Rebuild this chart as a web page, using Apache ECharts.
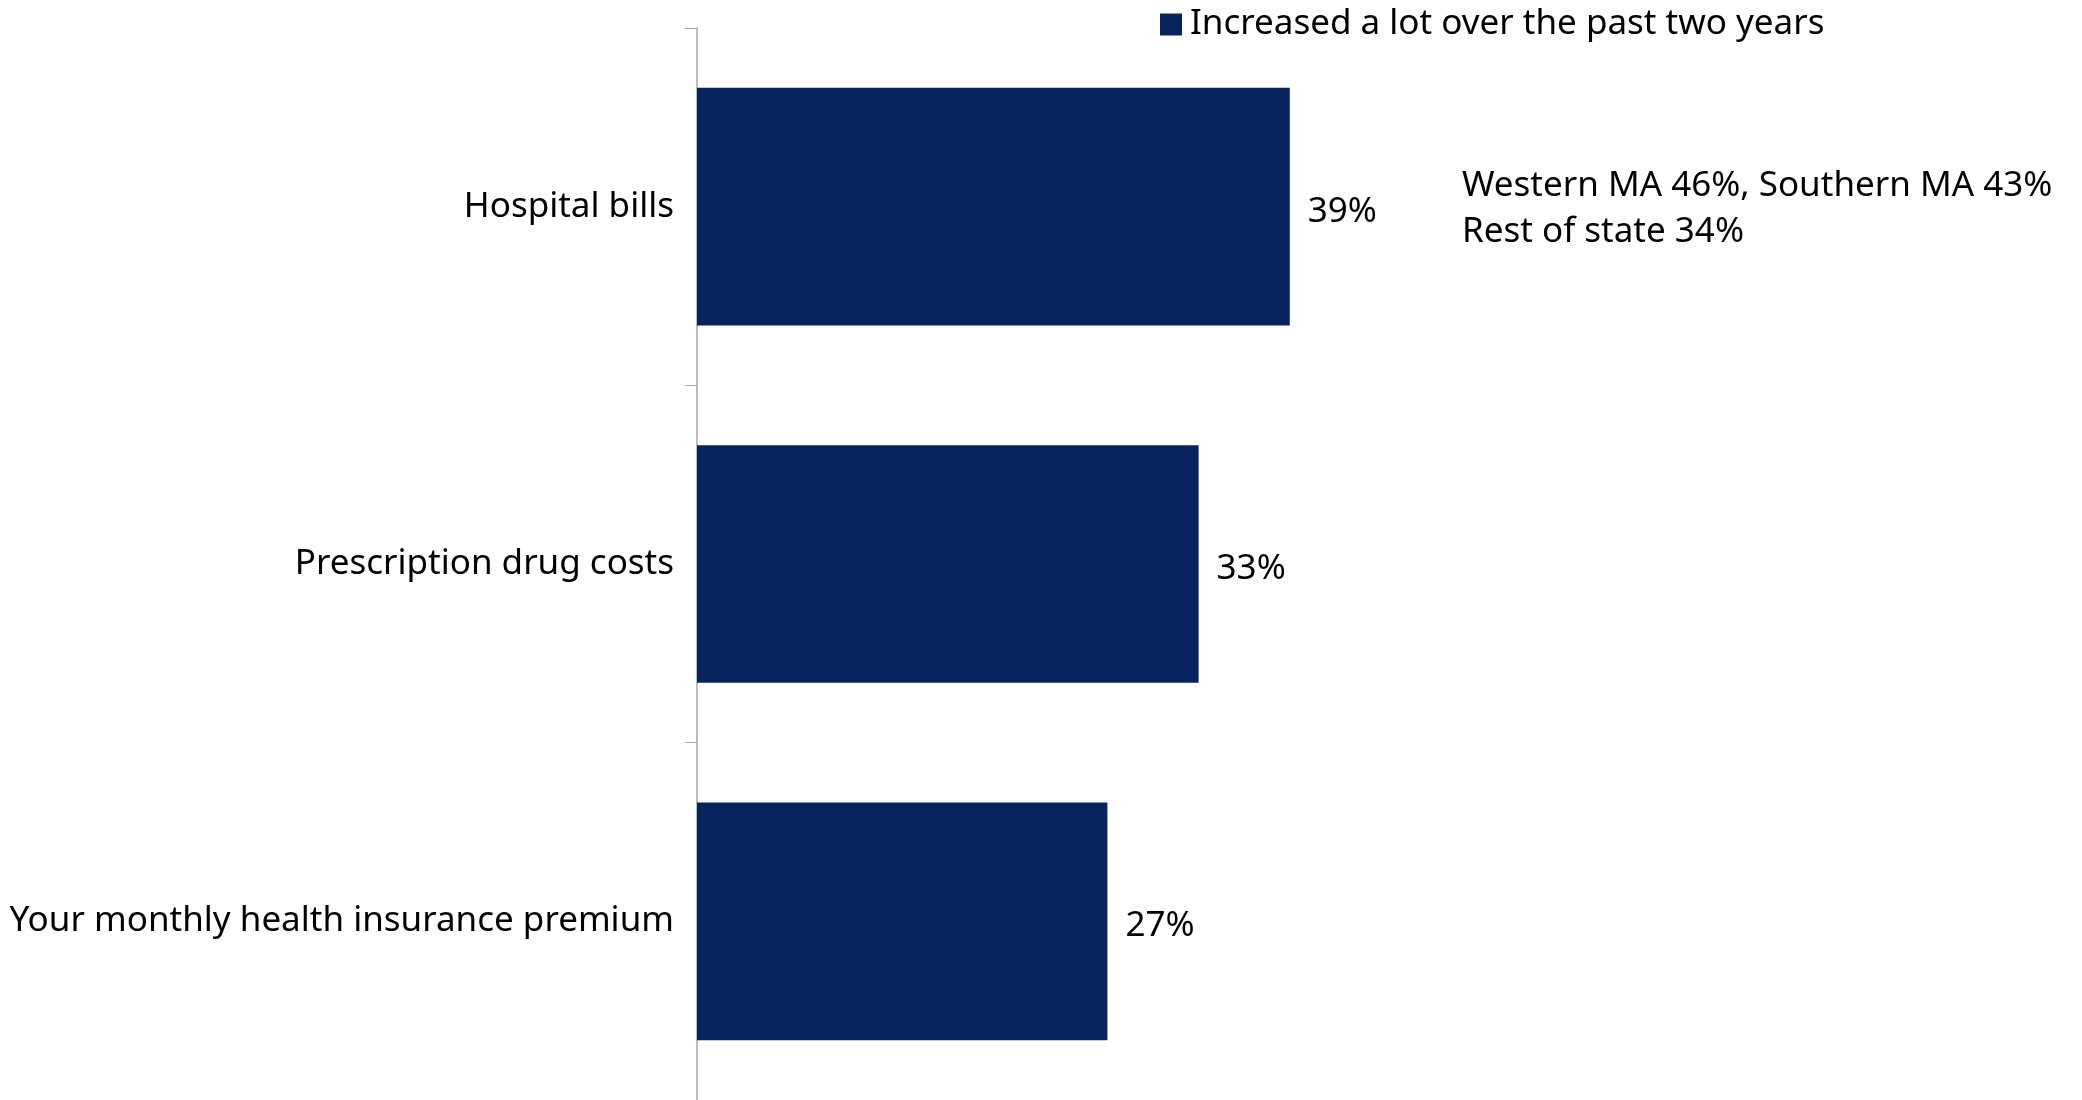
<!DOCTYPE html>
<html><head><meta charset="utf-8">
<script src="https://cdn.jsdelivr.net/npm/echarts@6/dist/echarts.min.js"></script>
<style>html,body{margin:0;padding:0;background:#fff}#c{width:2082px;height:1100px}</style>
</head><body><div id="c"></div>
<script>
const categories = ["Hospital bills", "Prescription drug costs", "Your monthly health insurance premium"];
const values = [39, 33, 27];
const seriesName = "Increased a lot over the past two years";
const noteLines = ["Western MA 46%, Southern MA 43%", "Rest of state 34%"];

const FONT = "Noto Sans";
const chart = echarts.init(document.getElementById('c'), null, {renderer: 'canvas'});
chart.setOption({
  animation: false,
  textStyle: {fontFamily: FONT},
  legend: {
    data: [seriesName], top: 2, left: 1155, itemWidth: 22, itemHeight: 22, itemGap: 10,
    icon: 'rect',
    textStyle: {fontFamily: FONT, fontSize: 35, color: '#000', padding: [0, 0, 0, 3]}
  },
  grid: {left: 697, right: 17, top: 28, bottom: -2, containLabel: false},
  xAxis: {type: 'value', min: 0, max: 90, show: false},
  yAxis: {
    type: 'category', data: categories, inverse: true,
    axisLine: {lineStyle: {color: '#A6A6A6', width: 1.5}},
    axisTick: {show: true, length: 12, lineStyle: {color: '#A6A6A6'}},
    axisLabel: {fontFamily: FONT, fontSize: 35, color: '#000', margin: 23, padding: [10, 0, 0, 0]}
  },
  series: [{
    name: seriesName, type: 'bar', data: values, barCategoryGap: '33.5%',
    itemStyle: {color: '#08245E'},
    label: {show: true, position: 'right', distance: 18, formatter: '{c}%', offset: [0, 5],
      fontFamily: FONT, fontSize: 35, color: '#000'}
  }],
  graphic: [{
    type: 'text', left: 1462, top: 163,
    style: {text: noteLines.join('\n'), fontFamily: FONT, fontSize: 35, lineHeight: 46, fill: '#000'}
  }]
});
</script></body></html>
